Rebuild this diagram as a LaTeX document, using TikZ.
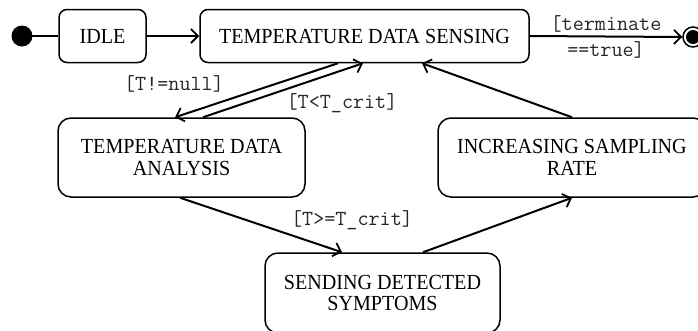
\documentclass[tikz,border=0pt]{standalone}
\usepackage{fontspec}
\setmainfont{Liberation Serif}[FakeStretch=0.935]
\usetikzlibrary{arrows.meta,calc}
\tikzset{
  statebox/.style={draw=black, line width=1.5pt, fill=white, rounded corners=10pt, inner sep=0pt,
    align=center, font=\fontsize{21.5}{21.5}\selectfont},
  trans/.style={line width=2pt, -{Straight Barb[length=7pt,width=14pt,line width=1.8pt]}},
  guard/.style={font=\fontsize{21.5}{26}\ttfamily, text=black!85, inner sep=0pt, align=center},
}
\begin{document}
\begin{tikzpicture}[x=1pt,y=-1pt]
\useasboundingbox (0,0) rectangle (698,330);
\fill[white] (0,0) rectangle (698,330);
% initial
\fill[black] (22,36) circle (10.5pt);
\coordinate (init) at (22,36);
% states
\node[statebox, minimum width=87pt, minimum height=53pt, rounded corners=8pt] (idle) at (102.5,36) {IDLE};
\node[statebox, minimum width=329pt, minimum height=53pt, rounded corners=8pt] (tds) at (364.5,36) {TEMPERATURE DATA SENSING};
\node[statebox, minimum width=247pt, minimum height=79pt, rounded corners=13pt] (tda) at (181.5,157.5) {TEMPERATURE DATA\\ANALYSIS};
\node[statebox, minimum width=268pt, minimum height=79pt, rounded corners=13pt] (isr) at (572,157.5) {INCREASING SAMPLING\\RATE};
\node[statebox, minimum width=235pt, minimum height=80pt, rounded corners=13pt] (sds) at (382.5,293) {SENDING DETECTED\\SYMPTOMS};
% final
\node[circle, draw=black, line width=1.5pt, fill=white, minimum size=20pt, inner sep=0pt] (final) at (693,37) {};
\fill[black] (final.center) circle (7pt);
% transitions
\draw[line width=2pt] (init) -- (idle.west);
\draw[trans] (idle.east) -- (tds.west);
\draw[trans] (tds.east) -- node[guard] {[terminate\\==true]} (final.west);
\draw[trans] ([xshift=-26.5pt]tds.south) -- ([xshift=-6.5pt]tda.north);
\draw[trans] ([xshift=21.5pt]tda.north) -- ([xshift=-1.5pt]tds.south);
\draw[trans] ([xshift=-1.5pt]tda.south) -- ([xshift=-40.5pt]sds.north);
\draw[trans] ([xshift=40.5pt]sds.north) -- (isr.south);
\draw[trans] (isr.north) -- ([xshift=57.5pt]tds.south);
% guards
\node[guard] (g1) at (174,84) {[T!=null]};
\node[guard] (g2) at (342,103) {[T<T\_crit]};
\node[guard] (g3) at (352,220) {[T>=T\_crit]};
\end{tikzpicture}
\end{document}
